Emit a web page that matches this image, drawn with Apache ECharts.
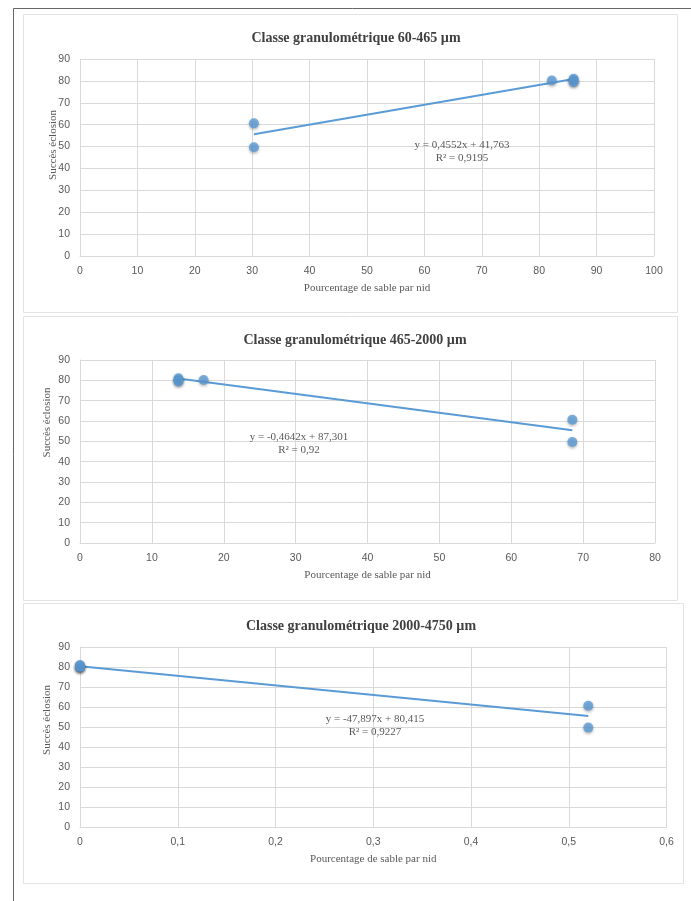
<!DOCTYPE html>
<html>
<head>
<meta charset="utf-8">
<script src="https://cdn.jsdelivr.net/npm/echarts@6/dist/echarts.min.js"></script>
<style>
html,body{margin:0;padding:0;background:#fff;}
#c{width:691px;height:901px;}
</style>
</head>
<body>
<div id="c"></div>
<script>
// ---- Data ----
const titles = ['Classe granulométrique 60-465 µm', 'Classe granulométrique 465-2000 µm', 'Classe granulométrique 2000-4750 µm'];
const xName = 'Pourcentage de sable par nid';
const yName = 'Succès éclosion';

const c1X = [30.3, 30.3, 82.2, 86.0, 86.0, 86.0];
const c1Y = [60.6, 49.7, 80.2, 81.0, 80.3, 79.4];
const t1X = [30.3, 86.0];
const t1Y = [55.6, 80.9];
const eq1 = ['y = 0,4552x + 41,763', 'R² = 0,9195'];

const c2X = [13.7, 13.7, 13.7, 17.2, 68.5, 68.5];
const c2Y = [81.0, 80.2, 79.4, 80.2, 60.6, 49.7];
const t2X = [13.7, 68.5];
const t2Y = [80.9, 55.5];
const eq2 = ['y = -0,4642x + 87,301', 'R² = 0,92'];

const c3X = [0, 0, 0, 0, 0.52, 0.52];
const c3Y = [81.0, 80.3, 79.6, 80.2, 60.6, 49.7];
const t3X = [0, 0.52];
const t3Y = [80.4, 55.5];
const eq3 = ['y = -47,897x + 80,415', 'R² = 0,9227'];

const xMax = [100, 80, 0.6];
const xInt = [10, 10, 0.1];
const yTicks = [0, 10, 20, 30, 40, 50, 60, 70, 80, 90];

// ---- Build ----
const zip = (a, b) => a.map((v, i) => [v, b[i]]);
const blue = '#5B9BD5';
const grid = '#D9D9D9';
const txt = '#595959';
const serif = '"Liberation Serif", "DejaVu Serif", serif';
const sans = '"Liberation Sans", Arial, sans-serif';

const grids = [
  {left: 80, right: 37, top: 59, height: 197},
  {left: 80, right: 36, top: 360, height: 183},
  {left: 80, right: 24.5, top: 647, height: 180}
];
const titleTops = [26, 328, 614];
const titleLefts = [351, 350, 356];
const yNameGap = [21, 27, 27];
const yNamePad = [25, 58, 34];

const pts = [zip(c1X, c1Y), zip(c2X, c2Y), zip(c3X, c3Y)];
const trends = [zip(t1X, t1Y), zip(t2X, t2Y), zip(t3X, t3Y)];
const eqs = [eq1, eq2, eq3];
const eqPos = [[462, 145], [299, 437], [375, 719]];

const xAxes = grids.map((g, i) => ({
  gridIndex: i, type: 'value', min: 0, max: xMax[i], interval: xInt[i],
  name: xName, nameLocation: 'middle', nameGap: 27,
  nameTextStyle: {fontFamily: serif, fontSize: 11, color: txt},
  axisLine: {show: true, lineStyle: {color: grid}},
  axisTick: {show: false},
  axisLabel: {color: txt, fontFamily: sans, fontSize: 10.5, margin: 10,
    formatter: v => String(+v.toFixed(1)).replace('.', ',')},
  splitLine: {show: true, lineStyle: {color: grid}}
}));
const yAxes = grids.map((g, i) => ({
  gridIndex: i, type: 'value', min: 0, max: yTicks[yTicks.length - 1], interval: yTicks[1] - yTicks[0],
  name: yName, nameLocation: 'middle', nameGap: yNameGap[i], nameMoveOverlap: false,
  nameTextStyle: {fontFamily: serif, fontSize: 11, color: txt, padding: [0, 0, 0, yNamePad[i]]},
  axisLine: {show: true, lineStyle: {color: grid}},
  axisTick: {show: false},
  axisLabel: {color: txt, fontFamily: sans, fontSize: 10.5, margin: 10},
  splitLine: {show: true, lineStyle: {color: grid}}
}));

const series = [];
for (let i = 0; i < 3; i++) {
  series.push({
    type: 'line', xAxisIndex: i, yAxisIndex: i, data: trends[i],
    showSymbol: false, symbol: 'none', lineStyle: {color: blue, width: 2}, z: 2, silent: true
  });
  series.push({
    type: 'scatter', xAxisIndex: i, yAxisIndex: i, data: pts[i], symbolSize: 10,
    itemStyle: {color: blue, shadowBlur: 3, shadowColor: 'rgba(0,0,0,0.35)', shadowOffsetY: 1.5},
    z: 3
  });
}

const graphic = [
  {type: 'line', shape: {x1: 13.5, y1: 8.5, x2: 691, y2: 8.5}, style: {stroke: '#666', lineWidth: 1}, z: -1},
  {type: 'line', shape: {x1: 13.5, y1: 8.5, x2: 13.5, y2: 901}, style: {stroke: '#666', lineWidth: 1}, z: -1},
  {type: 'rect', shape: {x: 23.5, y: 14.5, width: 654, height: 298}, style: {fill: '#fff', stroke: '#E3E3E3', lineWidth: 1}, z: -2},
  {type: 'rect', shape: {x: 23.5, y: 316.5, width: 654, height: 284}, style: {fill: '#fff', stroke: '#E3E3E3', lineWidth: 1}, z: -2},
  {type: 'rect', shape: {x: 23.5, y: 603.5, width: 660, height: 280}, style: {fill: '#fff', stroke: '#E3E3E3', lineWidth: 1}, z: -2}
];
eqs.forEach((e, i) => {
  e.forEach((line, j) => {
    graphic.push({type: 'text', x: eqPos[i][0], y: eqPos[i][1] + j * 13,
      style: {text: line, fill: txt, font: '11px ' + serif, textAlign: 'center', textVerticalAlign: 'middle'}, z: 5});
  });
});

const chart = echarts.init(document.getElementById('c'));
chart.setOption({
  animation: false,
  backgroundColor: '#fff',
  title: titles.map((t, i) => ({
    text: t, left: titleLefts[i], top: titleTops[i], textAlign: 'center',
    textStyle: {fontFamily: serif, fontWeight: 'bold', fontSize: 14, color: '#404040'}
  })),
  grid: grids,
  xAxis: xAxes,
  yAxis: yAxes,
  series: series,
  graphic: graphic
});
</script>
</body>
</html>
